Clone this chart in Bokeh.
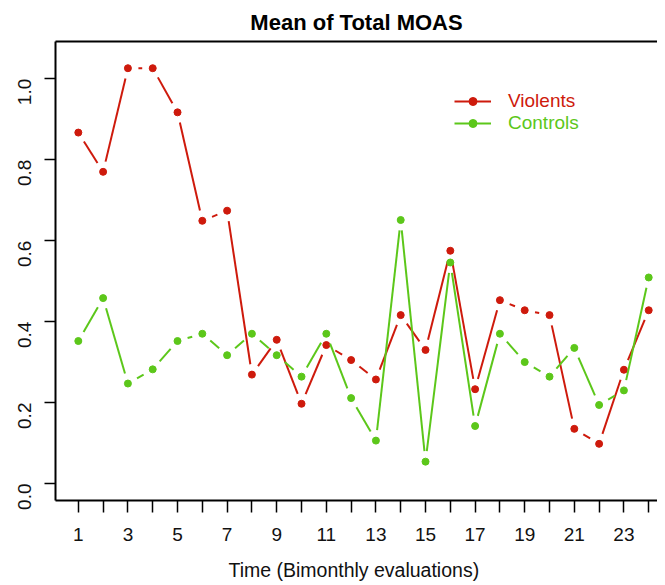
import math
from bokeh.plotting import figure
from bokeh.models import (FixedTicker, Legend, LegendItem, LinearAxis, Range1d,
                          ColumnDataSource, Title)
from bokeh.embed import file_html
from bokeh.resources import INLINE

# ---- data ----
time = list(range(1, 25))
violents = [0.867, 0.770, 1.026, 1.026, 0.917, 0.649, 0.674, 0.269, 0.355, 0.197,
            0.342, 0.305, 0.257, 0.416, 0.330, 0.575, 0.233, 0.453, 0.428, 0.416,
            0.135, 0.098, 0.281, 0.428]
controls = [0.352, 0.458, 0.247, 0.282, 0.352, 0.370, 0.317, 0.370, 0.317, 0.264,
            0.370, 0.211, 0.106, 0.651, 0.054, 0.546, 0.142, 0.370, 0.300, 0.264,
            0.335, 0.194, 0.230, 0.509]
series_names = ["Violents", "Controls"]
x_ticks = list(range(1, 25))
x_tick_labels = {t: (str(t) if t % 2 == 1 else "") for t in x_ticks}
y_ticks = [0.0, 0.2, 0.4, 0.6, 0.8, 1.0]
y_tick_labels = {0.0: "0.0", 0.2: "0.2", 0.4: "0.4", 0.6: "0.6", 0.8: "0.8", 1.0: "1.0"}

# ---- styling ----
RED = "#CE1A0C"
GREEN = "#5CC71A"
FONT = "Liberation Sans"
FW, FH = 602, 459
X0, X1 = 0.08, 0.08 + FW / 24.8
Y0, Y1 = -0.042, 1.092
GAP = 10.5  # px gap around points (R type="b")

p = figure(frame_width=FW, frame_height=FH, x_range=Range1d(X0, X1),
           y_range=Range1d(Y0, Y1), output_backend="svg", toolbar_location=None,
           min_border_left=55, min_border_right=0, min_border_top=41,
           min_border_bottom=80, background_fill_color="white",
           border_fill_color="white")
p.outline_line_color = None
p.grid.visible = False

sx = FW / (X1 - X0)
sy = FH / (Y1 - Y0)


def gapped(xs, ys):
    a, b, c, d = [], [], [], []
    for i in range(len(xs) - 1):
        dx = (xs[i + 1] - xs[i]) * sx
        dy = (ys[i + 1] - ys[i]) * sy
        L = math.hypot(dx, dy)
        if L > 2 * GAP:
            f = GAP / L
            a.append(xs[i] + (xs[i + 1] - xs[i]) * f)
            b.append(ys[i] + (ys[i + 1] - ys[i]) * f)
            c.append(xs[i + 1] - (xs[i + 1] - xs[i]) * f)
            d.append(ys[i + 1] - (ys[i + 1] - ys[i]) * f)
    return dict(x0=a, y0=b, x1=c, y1=d)


for name, vals, col, ly in [(series_names[0], violents, RED, 388),
                            (series_names[1], controls, GREEN, 366)]:
    seg = p.segment("x0", "y0", "x1", "y1", source=ColumnDataSource(gapped(time, vals)),
                    line_color=col, line_width=2)
    pts = p.scatter(time, vals, size=7, fill_color=col, line_color=col)
    lg = Legend(items=[LegendItem(label=name, renderers=[seg, pts])],
                location=(399, ly), padding=0, margin=0, border_line_color=None,
                background_fill_alpha=0, glyph_width=37, glyph_height=20,
                label_height=20, label_standoff=17, label_text_color=col,
                label_text_font=FONT, label_text_font_size="19px")
    p.add_layout(lg)

# x axis
xa = p.xaxis[0]
xa.ticker = FixedTicker(ticks=x_ticks)
xa.major_label_overrides = x_tick_labels
xa.minor_tick_line_color = None
xa.major_tick_in = 0
xa.major_tick_out = 12
xa.major_label_standoff = 15
xa.axis_line_width = 2
xa.major_tick_line_width = 1.5
xa.major_label_text_font = FONT
xa.major_label_text_font_size = "19px"
xa.major_label_text_color = "#111111"
xa.axis_label = "Time (Bimonthly  evaluations)"
xa.axis_label_text_font = FONT
xa.axis_label_text_font_size = "19.5px"
xa.axis_label_text_font_style = "normal"
xa.axis_label_text_color = "#111111"
xa.axis_label_standoff = 15

# y axis
ya = p.yaxis[0]
ya.ticker = FixedTicker(ticks=y_ticks)
ya.major_label_overrides = y_tick_labels
ya.minor_tick_line_color = None
ya.major_tick_in = 0
ya.major_tick_out = 11
ya.major_label_standoff = 20
ya.axis_line_width = 2
ya.major_tick_line_width = 1.5
ya.major_label_orientation = math.pi / 2
ya.major_label_text_font = FONT
ya.major_label_text_font_size = "19px"
ya.major_label_text_color = "#111111"

# top border line of the R box
top = LinearAxis(ticker=FixedTicker(ticks=[]), axis_line_width=2,
                 major_tick_line_color=None, minor_tick_line_color=None,
                 major_label_text_font_size="0px")
p.add_layout(top, "above")

p.title = Title(text="Mean of Total MOAS", align="center", offset=8,
                text_font=FONT, text_font_size="22px", text_font_style="bold",
                text_color="#000000", standoff=13)

open("out.html", "w").write(file_html(p, INLINE))
